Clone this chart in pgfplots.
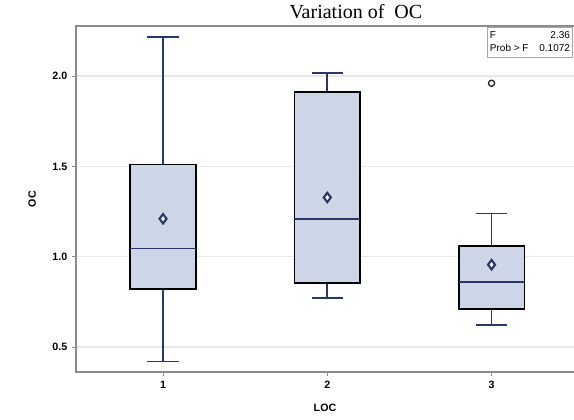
\documentclass[border=0pt]{standalone}
\usepackage{fontspec}
\setmainfont{Liberation Sans}
\newfontfamily\timesfont{Liberation Serif}
\usepackage{pgfplots}
\usepgfplotslibrary{statistics}
\pgfplotsset{compat=1.18}
\definecolor{navy}{RGB}{38,55,105}
\definecolor{boxfill}{RGB}{204,214,230}
\definecolor{axisgray}{RGB}{140,140,140}
\definecolor{gridgray}{RGB}{232,232,232}
\begin{document}
\begin{tikzpicture}
\begin{axis}[
  scale only axis, width=373.5pt, height=259.5pt,
  xmin=0.47, xmax=3.502, ymin=0.362, ymax=2.277,
  axis line style={draw=none},
  xtick={1,2,3}, ytick={0.5,1.0,1.5,2.0},
  xtick pos=left, ytick pos=left,
  tick align=outside, major tick length=3pt,
  tick style={axisgray, line width=0.8pt},
  ymajorgrids, grid style={gridgray, line width=0.9pt},
  /pgf/number format/assume math mode=true,
  yticklabel style={/pgf/number format/fixed, /pgf/number format/fixed zerofill, /pgf/number format/precision=1},
  ticklabel style={font=\fontsize{8}{9}\selectfont\bfseries},
  xlabel={LOC}, ylabel={OC},
  label style={font=\fontsize{8}{9}\selectfont\bfseries},
  xlabel style={at={(axis description cs:0.5,-0.104)}, anchor=center},
  ylabel style={at={(axis description cs:-0.088,0.5)}, anchor=center},
  boxplot/draw direction=y,
  boxplot/box extend=0.4,
  boxplot/whisker extend=0.19,
  boxplot/every box/.style={draw=black, fill=boxfill, line width=1.2pt},
  boxplot/every whisker/.style={draw=navy, line width=1.3pt},
  boxplot/every median/.style={draw=navy, line width=1.3pt},
]
\addplot[boxplot prepared={draw position=1, lower whisker=0.42, lower quartile=0.82, median=1.045, upper quartile=1.51, upper whisker=2.217}] coordinates {};
\addplot[boxplot prepared={draw position=2, lower whisker=0.772, lower quartile=0.856, median=1.21, upper quartile=1.911, upper whisker=2.017}] coordinates {};
\addplot[boxplot prepared={draw position=3, lower whisker=0.622, lower quartile=0.711, median=0.861, upper quartile=1.061, upper whisker=1.239},
  mark=o, mark size=2.3pt, mark options={draw=black!85, line width=1pt}] coordinates {(0,1.96)};
% means
\addplot[only marks, mark=diamond*, mark size=3.5pt, mark options={draw=navy, fill=white, line width=1.6pt}] coordinates {(1,1.21) (2,1.328) (3,0.956)};
\coordinate (SW) at (rel axis cs:0,0);
\coordinate (NW) at (rel axis cs:0,1);
\coordinate (NE) at (rel axis cs:1,1);
\coordinate (SE) at (rel axis cs:1,0);
\coordinate (T) at (rel axis cs:0.562,1);
\coordinate (I) at (rel axis cs:0.998,0.996);
\end{axis}
\draw[axisgray, line width=1.2pt] (SE) -- (SW) -- (NW) -- (NE);
\node[anchor=base, font=\timesfont\fontsize{15}{18}\selectfont] at ([yshift=6pt]T) {Variation of\ \ OC};
\node[anchor=north east, draw=gray!70, fill=white, line width=0.6pt, inner xsep=2pt, inner ysep=1.5pt, font=\fontsize{7.5}{9.5}\selectfont] at (I)
  {\begin{tabular*}{60pt}{@{}l@{\extracolsep{\fill}}r@{}}F & 2.36\\ Prob > F & 0.1072\end{tabular*}};
\pgfresetboundingbox
\path (SW) ++(-57pt,-35.25pt) rectangle ++(430.5pt,314.25pt);
\end{tikzpicture}
\end{document}
